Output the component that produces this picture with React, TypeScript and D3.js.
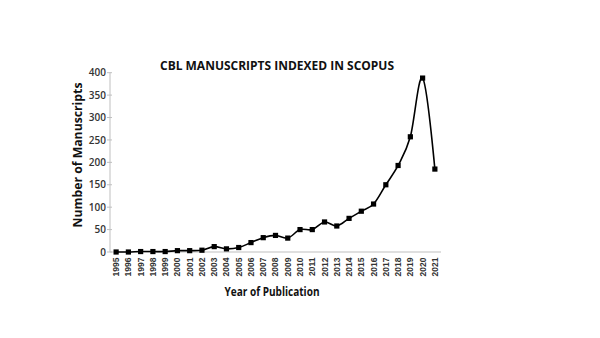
import React from "react";
import * as d3 from "d3";

const years: string[] = [
  "1995","1996","1997","1998","1999","2000","2001","2002","2003","2004",
  "2005","2006","2007","2008","2009","2010","2011","2012","2013","2014",
  "2015","2016","2017","2018","2019","2020","2021",
];
const manuscripts: number[] = [
  0, 0, 1, 1, 1, 3, 3, 4, 12, 7,
  10, 21, 32, 37, 31, 50, 50, 67, 58, 75,
  91, 107, 150, 193, 257, 388, 185,
];
const yTicks: number[] = [0, 50, 100, 150, 200, 250, 300, 350, 400];
const titleText = "CBL MANUSCRIPTS INDEXED IN SCOPUS";
const xTitle = "Year of Publication";
const yTitle = "Number of Manuscripts";

export default function App() {
  const W = 600, H = 338;
  const left = 110, right = 441, top = 72.7, bottom = 252;
  const x = d3.scaleBand<string>().domain(years).range([left, right]);
  const y = d3.scaleLinear().domain([0, 400]).range([bottom, top]);
  const cx = (d: string) => (x(d) as number) + x.bandwidth() / 2;
  const pts = years.map((yr, i) => [cx(yr), y(manuscripts[i])] as [number, number]);
  const line = d3.line<[number, number]>().curve(d3.curveCardinal.tension(0))(pts) || "";
  const axisColor = "#bfbfbf";
  const cal = "'Open Sans', 'Liberation Sans', sans-serif";
  const arial = "'Liberation Sans', Arial, sans-serif";
  return (
    <svg width={W} height={H} style={{ position: "absolute", left: 0, top: 0, background: "#fff" }}>
      <rect width={W} height={H} fill="#fff" />
      <text x={277} y={70} textAnchor="middle" fontFamily={cal} fontWeight={700} fontSize={13}
        textLength={234} lengthAdjust="spacingAndGlyphs" fill="#111">{titleText}</text>
      {/* y axis */}
      <line x1={left} x2={left} y1={top} y2={bottom} stroke={axisColor} strokeWidth={1} />
      {yTicks.map((t) => (
        <g key={t}>
          <line x1={left - 3} x2={left + 2} y1={y(t)} y2={y(t)} stroke={axisColor} />
          <text x={left - 4} y={y(t)} dy="0.36em" textAnchor="end" fontFamily={cal}
            fontWeight={600} fontSize={10} fill="#333">{t}</text>
        </g>
      ))}
      {/* x axis */}
      <line x1={left} x2={right} y1={bottom} y2={bottom} stroke={axisColor} strokeWidth={1} />
      {years.map((yr) => (
        <text key={yr} transform={`translate(${cx(yr)},${257.5}) rotate(-90)`} textAnchor="end"
          dy="0.35em" fontFamily={arial} fontWeight={700} fontSize={8.5} fill="#333">{yr}</text>
      ))}
      <path d={line} fill="none" stroke="#000" strokeWidth={1.6} />
      {pts.map(([px, py], i) => (
        <rect key={i} x={px - 2.6} y={py - 2.6} width={5.2} height={5.2} fill="#000" />
      ))}
      <text x={272} y={296} textAnchor="middle" fontFamily={cal} fontWeight={700} fontSize={12}
        textLength={95} lengthAdjust="spacingAndGlyphs" fill="#111">{xTitle}</text>
      <text transform={`translate(${82},${155}) rotate(-90)`} textAnchor="middle" fontFamily={cal}
        fontWeight={700} fontSize={12.5} textLength={145} lengthAdjust="spacingAndGlyphs"
        fill="#111">{yTitle}</text>
    </svg>
  );
}
